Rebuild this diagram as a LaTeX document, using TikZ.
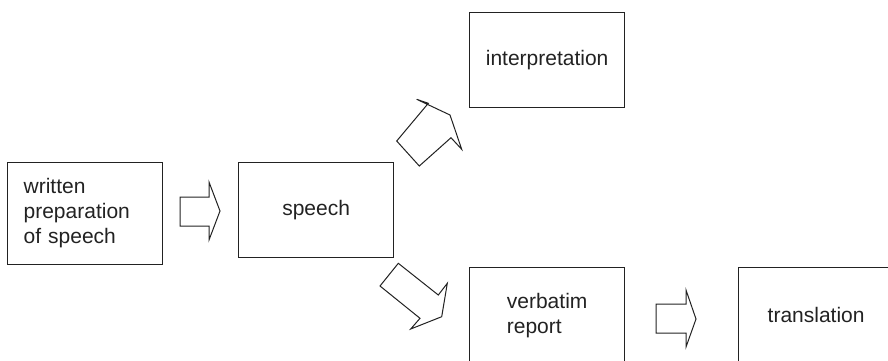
\documentclass[tikz,border=0pt]{standalone}
\usepackage{fontspec}
\setmainfont{Liberation Sans}
\definecolor{ink}{HTML}{222222}
\begin{document}
\begin{tikzpicture}[x=1pt,y=-1pt,
  box/.style={draw=ink,line width=1.3pt,rectangle,minimum width=155pt,minimum height=95pt,anchor=north west,
    font=\fontsize{21}{25}\selectfont,align=left,text=ink},
  blockarrow/.style={draw=ink,line width=1pt,fill=white,line join=miter}]
\useasboundingbox (0,0) rectangle (888,360);
\clip (0,0) rectangle (888,360);
\node[box,text width=123pt,inner sep=16pt] (written) at (7,162) {written\\preparation\\of speech};
\node[box] (speech) at (238,162) {speech};
\node[box] (interp) at (469,12) {interpretation};
\node[box] (verbatim) at (469,267) {verbatim\\report};
\node[box] (transl) at (738,267) {translation};
% block arrows
\draw[blockarrow] (180,197) -- (209,197) -- (209,182) -- (220,211) -- (209,240) -- (209,226) -- (180,226) -- cycle;
\draw[blockarrow] (396.7,141) -- (428.3,103.3) -- (416.7,99.3) -- (450,115) -- (461.7,149.3) -- (451,137.7) -- (419.3,166) -- cycle;
\draw[blockarrow] (398.3,263.3) -- (438.3,295) -- (447.3,283.3) -- (441.7,316.7) -- (410.7,329) -- (420,318.3) -- (380,286) -- cycle;
\draw[blockarrow] (656,304) -- (686,304) -- (686,290) -- (696,319) -- (686,347) -- (686,333) -- (656,333) -- cycle;
\end{tikzpicture}
\end{document}
